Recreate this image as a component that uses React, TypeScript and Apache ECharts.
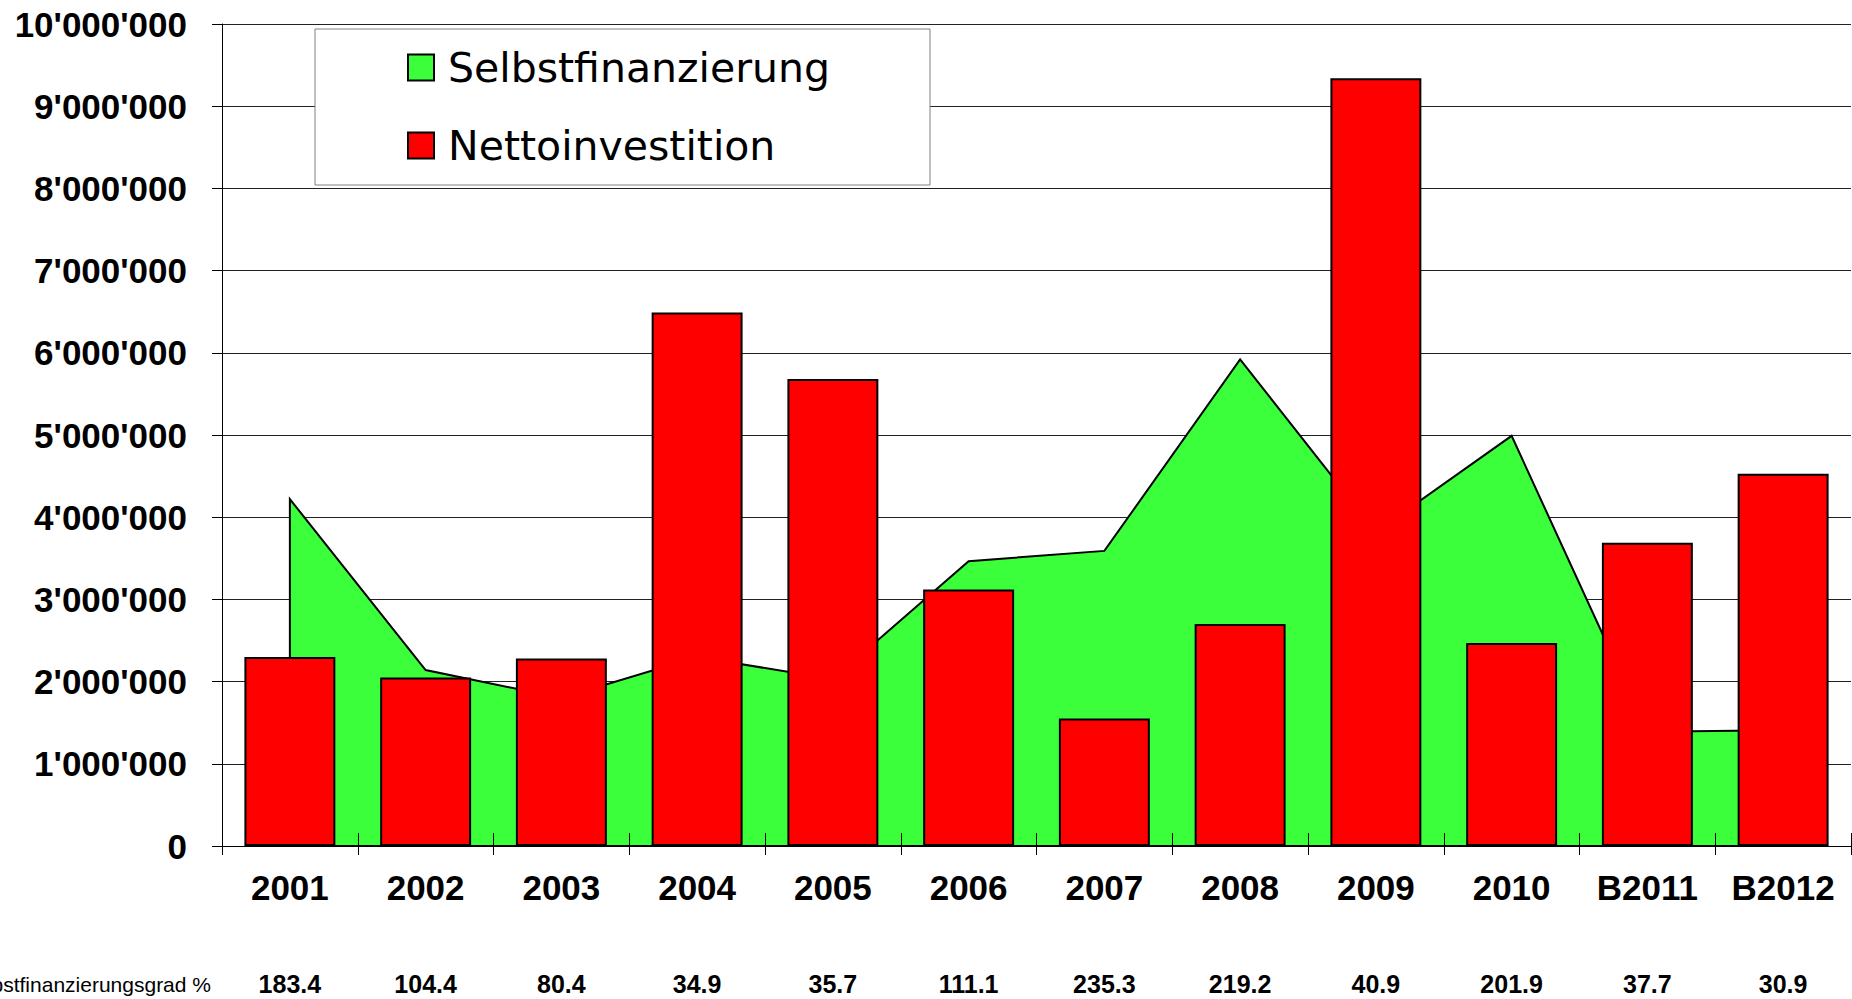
import React, { useEffect, useRef } from "react";
import * as echarts from "echarts";

const categories = ["2001", "2002", "2003", "2004", "2005", "2006", "2007", "2008", "2009", "2010", "B2011", "B2012"];
const selbstfinanzierung = [4220000, 2140000, 1800000, 2300000, 2030000, 3465000, 3590000, 5920000, 3820000, 4990000, 1390000, 1410000];
const nettoinvestition = [2300000, 2050000, 2280000, 6490000, 5680000, 3120000, 1550000, 2700000, 9340000, 2470000, 3690000, 4530000];
const selbstfinanzierungsgrad = ["183.4", "104.4", "80.4", "34.9", "35.7", "111.1", "235.3", "219.2", "40.9", "201.9", "37.7", "30.9"];
const yMin = 0;
const yMax = 10000000;
const yInterval = 1000000;

const GREEN = "#3AFF3A";
const RED = "#FF0000";
const AXIS_FONT = "'Liberation Sans', Arial, sans-serif";

function fmt(v: number): string {
  return String(v).replace(/\B(?=(\d{3})+(?!\d))/g, "'");
}

export default function App() {
  const ref = useRef<HTMLDivElement>(null);

  useEffect(() => {
    if (!ref.current) return;
    const chart = echarts.init(ref.current, null, { renderer: "svg" });
    const option: any = {
      animation: false,
      backgroundColor: "#ffffff",
      grid: { left: 222, right: 1, top: 24, bottom: 153, containLabel: false, outerBoundsMode: "none" },
      legend: {
        orient: "vertical",
        left: 315,
        top: 29,
        padding: [18, 100, 19, 92],
        itemGap: 37,
        itemWidth: 26,
        itemHeight: 26,
        backgroundColor: "#ffffff",
        borderColor: "#808080",
        borderWidth: 1,
        textStyle: {
          fontFamily: "'DejaVu Sans', sans-serif",
          fontSize: 41,
          color: "#000",
          padding: [0, 0, 0, 9],
        },
        data: [
          { name: "Selbstfinanzierung", icon: "rect", itemStyle: { color: GREEN, borderColor: "#000", borderWidth: 2 } },
          { name: "Nettoinvestition", icon: "rect", itemStyle: { color: RED, borderColor: "#000", borderWidth: 2 } },
        ],
      },
      xAxis: [
        {
          type: "category",
          data: categories,
          position: "bottom",
          axisLine: { show: true, lineStyle: { color: "#000", width: 1 } },
          axisTick: { show: true, length: 9, lineStyle: { color: "#000" } },
          axisLabel: {
            interval: 0,
            margin: 24,
            fontFamily: AXIS_FONT,
            fontWeight: "bold",
            fontSize: 35,
            color: "#000",
          },
          splitLine: { show: false },
        },
        {
          type: "category",
          data: selbstfinanzierungsgrad,
          position: "bottom",
          offset: 138,
          axisLine: { show: false },
          axisTick: { show: false },
          axisLabel: {
            interval: 0,
            margin: 0,
            verticalAlign: "middle",
            fontFamily: AXIS_FONT,
            fontWeight: "bold",
            fontSize: 25,
            color: "#000",
          },
          name: "Selbstfinanzierungsgrad %",
          nameLocation: "start",
          nameGap: 11,
          nameTextStyle: { fontFamily: AXIS_FONT, fontSize: 21, color: "#000", align: "right", verticalAlign: "middle" },
        },
        {
          type: "category",
          data: categories,
          position: "bottom",
          z: 10,
          axisLine: { show: false },
          axisTick: { show: true, inside: true, length: 13, lineStyle: { color: "#000" } },
          axisLabel: { show: false },
        },
      ],
      yAxis: {
        type: "value",
        min: yMin,
        max: yMax,
        interval: yInterval,
        axisLine: { show: true, lineStyle: { color: "#000", width: 1 } },
        axisTick: { show: true, length: 10, lineStyle: { color: "#000" } },
        axisLabel: {
          margin: 35,
          fontFamily: AXIS_FONT,
          fontWeight: "bold",
          fontSize: 35,
          color: "#000",
          formatter: (v: number) => fmt(v),
        },
        splitLine: { show: true, lineStyle: { color: "#222", width: 1 } },
      },
      series: [
        {
          name: "Selbstfinanzierung",
          type: "custom",
          xAxisIndex: 0,
          z: 2,
          itemStyle: { color: GREEN },
          data: selbstfinanzierung.map((v, i) => [i, v]),
          encode: { x: 0, y: 1 },
          renderItem: (params: any, api: any) => {
            if (params.dataIndex !== 0) return null;
            const n = selbstfinanzierung.length;
            const pts: number[][] = [api.coord([0, 0])];
            for (let i = 0; i < n; i++) pts.push(api.coord([i, selbstfinanzierung[i]]));
            pts.push(api.coord([n - 1, 0]));
            return {
              type: "polygon",
              shape: { points: pts },
              style: { fill: GREEN, stroke: "#000", lineWidth: 2 },
            };
          },
        },
        {
          name: "Nettoinvestition",
          type: "bar",
          xAxisIndex: 0,
          z: 3,
          barWidth: "67%",
          itemStyle: { color: RED, borderColor: "#000", borderWidth: 2 },
          data: nettoinvestition,
        },
      ],
    };
    chart.setOption(option);
    return () => chart.dispose();
  }, []);

  return (
    <div
      ref={ref}
      style={{ position: "fixed", left: 0, top: 0, width: 1852, height: 999, background: "#fff" }}
    />
  );
}
